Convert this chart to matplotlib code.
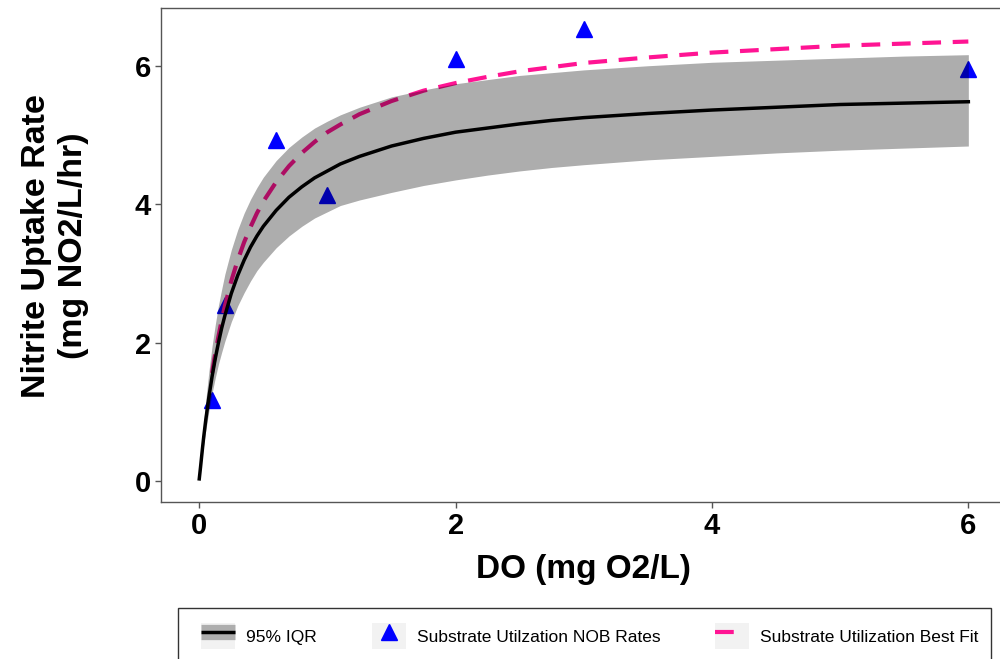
import matplotlib
matplotlib.use("Agg")
import matplotlib.pyplot as plt
from matplotlib.lines import Line2D
from matplotlib.patches import Patch, Rectangle
from matplotlib.legend_handler import HandlerTuple

plt.rcParams['font.family'] = ['Liberation Sans', 'DejaVu Sans']

# observed NOB rates
do_obs = [0.1, 0.2, 0.6, 1.0, 2.0, 3.0, 6.0]
rate_obs = [1.17, 2.54, 4.92, 4.13, 6.10, 6.53, 5.96]

# curves
do_grid = [0.0, 0.01, 0.025, 0.035, 0.05, 0.075, 0.1, 0.125, 0.15, 0.175, 0.2,
           0.25, 0.3, 0.35, 0.4, 0.45, 0.5, 0.6, 0.7, 0.8, 0.9, 1.0, 1.1, 1.25,
           1.5, 1.75, 2.0, 2.25, 2.5, 2.75, 3.0, 3.5, 4.0, 4.5, 5.0, 5.5, 6.0]
median = [0.03, 0.20, 0.47, 0.64, 0.87, 1.21, 1.51, 1.77, 2.00, 2.21, 2.39,
          2.71, 2.97, 3.19, 3.38, 3.54, 3.68, 3.91, 4.10, 4.25, 4.38, 4.48, 4.58,
          4.69, 4.84, 4.95, 5.04, 5.10, 5.16, 5.21, 5.25, 5.31, 5.36, 5.40, 5.44,
          5.46, 5.48]
iqr_hi = [0.03, 0.27, 0.63, 0.85, 1.15, 1.58, 1.95, 2.26, 2.54, 2.77, 2.99,
          3.34, 3.63, 3.87, 4.07, 4.24, 4.39, 4.63, 4.82, 4.97, 5.10, 5.20, 5.29,
          5.40, 5.55, 5.65, 5.74, 5.80, 5.86, 5.90, 5.94, 6.00, 6.05, 6.08, 6.11,
          6.14, 6.16]
iqr_lo = [0.03, 0.16, 0.39, 0.53, 0.72, 1.01, 1.27, 1.49, 1.69, 1.86, 2.02,
          2.30, 2.53, 2.72, 2.89, 3.04, 3.16, 3.37, 3.54, 3.68, 3.80, 3.89, 3.98,
          4.06, 4.17, 4.27, 4.35, 4.42, 4.48, 4.53, 4.57, 4.64, 4.69, 4.74, 4.78,
          4.81, 4.84]

do_fit = [0.1, 0.125, 0.15, 0.175, 0.2, 0.25, 0.3, 0.35, 0.4, 0.45, 0.5, 0.6,
          0.7, 0.8, 0.9, 1.0, 1.1, 1.25, 1.5, 1.75, 2.0, 2.25, 2.5, 2.75, 3.0,
          3.5, 4.0, 4.5, 5.0, 5.5, 6.0]
best_fit = [1.56, 1.84, 2.09, 2.32, 2.53, 2.89, 3.19, 3.45, 3.67, 3.87, 4.04,
            4.32, 4.55, 4.74, 4.90, 5.04, 5.15, 5.30, 5.49, 5.64, 5.75, 5.84,
            5.92, 5.98, 6.04, 6.12, 6.19, 6.24, 6.29, 6.32, 6.35]

blue = '#0000FF'
pink = '#FF1493'

fig = plt.figure(figsize=(10, 6.59), dpi=100)
ax = fig.add_axes([0.1608, 0.2375, 0.846, 0.7499])

ax.plot(do_obs, rate_obs, linestyle='none', marker='^', color=blue,
        markersize=11, zorder=2)
ax.plot(do_fit, best_fit, color=pink, lw=3, dashes=(4.5, 2.8), zorder=3)
ax.fill_between(do_grid, iqr_lo, iqr_hi, color='black', alpha=0.32,
                linewidth=0, zorder=4)
ax.plot(do_grid, median, color='black', lw=2.5, zorder=5)

ax.set_xlim(-0.3, 6.3)
ax.set_ylim(-0.311, 6.83)
ax.set_xticks([0, 2, 4, 6])
ax.set_yticks([0, 2, 4, 6])
ax.tick_params(length=4, width=1, color='#555555', labelsize=21, pad=3)
for lab in ax.get_xticklabels() + ax.get_yticklabels():
    lab.set_fontweight('bold')
for sp in ax.spines.values():
    sp.set_color('#555555')
    sp.set_linewidth(1)

ax.set_xlabel('DO (mg O2/L)', fontsize=24, fontweight='bold', labelpad=10)
ax.set_ylabel('Nitrite Uptake Rate\n(mg NO2/L/hr)', fontsize=24.5,
              fontweight='bold', linespacing=1.25)
ax.yaxis.set_label_coords(-0.0849, 0.519)

# legend frame (runs off the bottom edge like the original)
fig.patches.append(Rectangle((178 / 1000, -0.05), (991 - 178) / 1000,
                             1 - 608 / 659 + 0.05, transform=fig.transFigure,
                             facecolor='white', edgecolor='#333333', lw=1,
                             zorder=0))

bg = Patch(facecolor='#F2F2F2', edgecolor='none')
h_iqr = (bg, Line2D([], [], color='#AEAEAE', lw=11, solid_capstyle='butt'),
         Line2D([], [], color='black', lw=2.5, solid_capstyle='butt'))
h_pts = (bg, Line2D([], [], linestyle='none', marker='^', color=blue,
                    markersize=11))
h_fit = (bg, Line2D([], [], color=pink, lw=3, dashes=(4.5, 10),
                    dash_capstyle='butt'))

leg = fig.legend([h_iqr, h_pts, h_fit],
                 ['95% IQR', 'Substrate Utilzation NOB Rates',
                  'Substrate Utilization Best Fit'],
                 handler_map={tuple: HandlerTuple(ndivide=1, pad=0)},
                 loc='upper left', bbox_to_anchor=(201 / 1000, 1 - 623 / 659),
                 ncol=3, fontsize=12.5, numpoints=1, frameon=False,
                 borderpad=0, handlelength=1.96, handleheight=1.96,
                 handletextpad=0.63, columnspacing=3.16, borderaxespad=0)

fig.savefig('out.png', dpi=100)
